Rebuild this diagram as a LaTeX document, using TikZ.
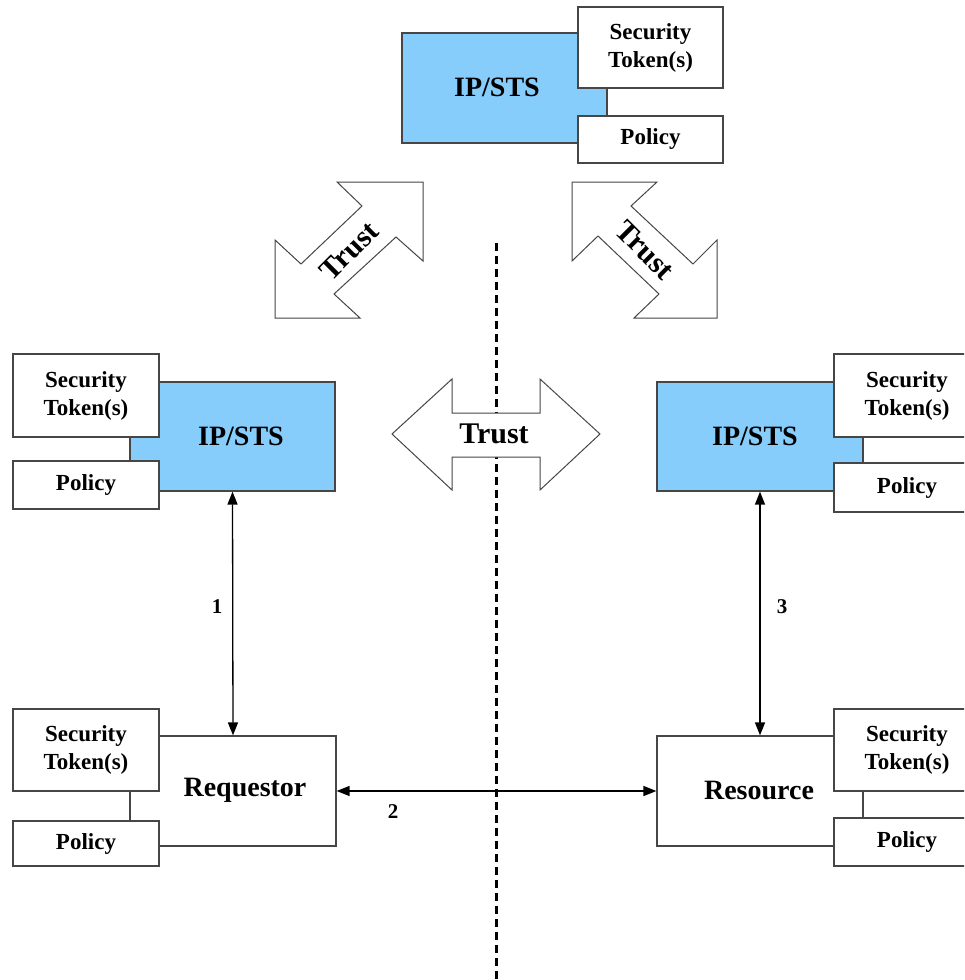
\documentclass[tikz,border=0pt]{standalone}
\usepackage{fontspec}
\setmainfont{Liberation Serif}
\usetikzlibrary{arrows.meta}
\definecolor{stsblue}{RGB}{135,205,252}
\definecolor{boxline}{RGB}{70,70,70}
\tikzset{
  bx/.style={draw=boxline, line width=1.2pt, rectangle, inner sep=0pt},
  bluebox/.style={bx, fill=stsblue},
  whitebox/.style={bx, fill=white},
  smalltxt/.style={font=\bfseries\fontsize{23}{28}\selectfont, align=center, inner sep=0pt},
  bigtxt/.style={font=\bfseries\fontsize{28}{32}\selectfont, inner sep=0pt},
  trusttxt/.style={font=\bfseries\fontsize{30}{34}\selectfont, inner sep=0pt},
  numtxt/.style={font=\bfseries\fontsize{21}{24}\selectfont, inner sep=0pt},
  trustshape/.style={draw=boxline, line width=1pt, fill=white, line join=miter},
  biarrow/.style={line width=1.3pt, {Triangle[length=13pt,width=10pt]}-{Triangle[length=13pt,width=10pt]}},
  divider/.style={line width=3pt, dash pattern=on 8pt off 5pt}
}
\begin{document}
\begin{tikzpicture}[x=1pt,y=-1pt]
\useasboundingbox (0,0) rectangle (964,980);
\clip (0,0) rectangle (964,980);

% dashed divider
\coordinate (dtop) at (496,243);
\coordinate (dbot) at (496,982);
\draw[divider] (dtop) -- (dbot);

% top IP/STS
\node[bluebox, minimum width=205pt, minimum height=110pt] (stsT) at (504.5,88) {};
\node[bigtxt] (stsTt) at (497,87) {IP/STS};
\node[whitebox, minimum width=145pt, minimum height=81pt] (secT) at (650.5,47.5) {};
\node[smalltxt] (secTt) at (650.5,47.5) {Security\\Token(s)};
\node[whitebox, minimum width=145pt, minimum height=47pt] (polT) at (650.5,139.5) {};
\node[smalltxt] (polTt) at (650.5,139.5) {Policy};

% left IP/STS
\node[bluebox, minimum width=205pt, minimum height=109pt] (stsL) at (232.5,436.5) {};
\node[bigtxt] (stsLt) at (241,436) {IP/STS};
\node[whitebox, minimum width=146pt, minimum height=83pt] (secL) at (86,395.5) {};
\node[smalltxt] (secLt) at (86,395.5) {Security\\Token(s)};
\node[whitebox, minimum width=146pt, minimum height=48pt] (polL) at (86,485) {};
\node[smalltxt] (polLt) at (86,485) {Policy};

% right IP/STS
\node[bluebox, minimum width=206pt, minimum height=109pt] (stsR) at (760,436.5) {};
\node[bigtxt] (stsRt) at (755,436) {IP/STS};
\node[whitebox, minimum width=146pt, minimum height=83pt] (secR) at (907,395.5) {};
\node[smalltxt] (secRt) at (907,395.5) {Security\\Token(s)};
\node[whitebox, minimum width=146pt, minimum height=49pt] (polR) at (907,487.5) {};
\node[smalltxt] (polRt) at (907,487.5) {Policy};

% Requestor
\node[whitebox, minimum width=206pt, minimum height=110pt] (req) at (233,791) {};
\node[bigtxt] (reqt) at (245,790) {Requestor};
\node[whitebox, minimum width=146pt, minimum height=82pt] (secRq) at (86,750) {};
\node[smalltxt] (secRqt) at (86,750) {Security\\Token(s)};
\node[whitebox, minimum width=146pt, minimum height=45pt] (polRq) at (86,843.5) {};
\node[smalltxt] (polRqt) at (86,843.5) {Policy};

% Resource
\node[whitebox, minimum width=206pt, minimum height=110pt] (res) at (760,791) {};
\node[bigtxt] (rest) at (759,790) {Resource};
\node[whitebox, minimum width=146pt, minimum height=82pt] (secRs) at (907,750) {};
\node[smalltxt] (secRst) at (907,750) {Security\\Token(s)};
\node[whitebox, minimum width=146pt, minimum height=48pt] (polRs) at (907,842) {};
\node[smalltxt] (polRst) at (907,842) {Policy};

% trust arrows
\draw[trustshape] (275,318) -- (275,240) -- (301,264) -- (362,206) -- (337,182) -- (423,182)
  -- (423,261) -- (396,237) -- (334,294) -- (360,318) -- cycle;
\node[trusttxt, rotate=45] (trL) at (349,251) {Trust};

\draw[trustshape] (572,182) -- (657,182) -- (631,206) -- (693,264) -- (717,240) -- (717,318)
  -- (634,318) -- (659,294) -- (598,236) -- (572,261) -- cycle;
\node[trusttxt, rotate=-45] (trR) at (645,250) {Trust};

\draw[trustshape] (392,434) -- (452,379) -- (452,413) -- (540,413) -- (540,379) -- (600,434)
  -- (540,490) -- (540,457) -- (452,457) -- (452,490) -- cycle;
\node[trusttxt] (trM) at (494,434) {Trust};

% message arrows
\draw[biarrow] (stsL.south) -- (req.north);
\draw[biarrow] (stsR.south) -- (res.north);
\draw[biarrow] (req.east) -- (res.west);
\node[numtxt] (n1) at (217,607) {1};
\node[numtxt] (n2) at (393,812) {2};
\node[numtxt] (n3) at (782,607) {3};
\end{tikzpicture}
\end{document}
